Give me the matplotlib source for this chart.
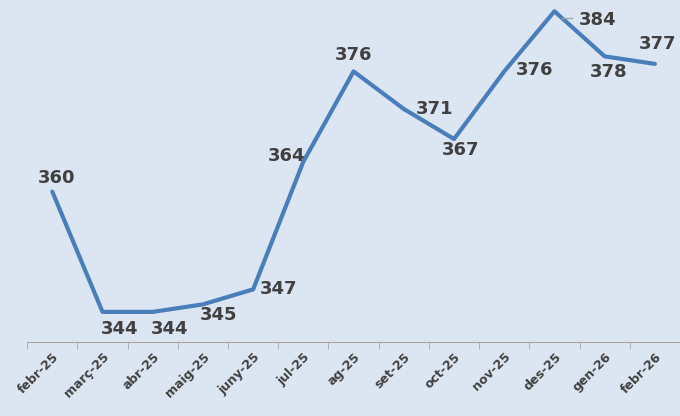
import matplotlib.pyplot as plt

months = ["febr-25","març-25","abr-25","maig-25","juny-25","jul-25","ag-25","set-25","oct-25","nov-25","des-25","gen-26","febr-26"]
values = [360,344,344,345,347,364,376,371,367,376,384,378,377]
# label offsets in points (dx, dy)
offsets = [(3,10),(12,-12),(12,-12),(11,-8),(18,0),(-12,4),(0,12),(22,0),(5,-8),(22,1),(31,-6),(3,-11),(2,14)]

fig = plt.figure(figsize=(6.8,4.16), dpi=100)
fig.patch.set_facecolor("#DCE6F2")
ax = fig.add_axes([0.04,0.178,0.96,0.822])
ax.set_facecolor("#DCE6F2")
x = range(len(months))
ax.plot(x, values, color="#4A7EBB", lw=3, solid_capstyle="round")
for i,(v,(dx,dy)) in enumerate(zip(values,offsets)):
    ax.annotate(str(v),(i,v),xytext=(dx,dy),textcoords="offset points",ha="center",va="center",
                fontsize=13,fontweight="bold",color="#404040")
ax.plot([10.15,10.35],[383.1,383.1],color="#A6A6A6",lw=1)
ax.set_xlim(-0.5,12.5)
ax.set_ylim(340,385.5)
ax.set_yticks([])
ax.set_xticks(list(x))
ax.set_xticklabels(months,rotation=45,ha="right",rotation_mode="anchor",fontsize=9,fontweight="bold",color="#404040")
ax.set_xticks([i-0.5 for i in range(14)],minor=True)
ax.tick_params(axis="x",which="major",length=0,pad=6)
ax.tick_params(axis="x",which="minor",length=5,color="#A6A6A6")
for s in ["top","right","left"]:
    ax.spines[s].set_visible(False)
ax.spines["bottom"].set_color("#A6A6A6")
fig.savefig("out.png",dpi=100,facecolor=fig.get_facecolor())
